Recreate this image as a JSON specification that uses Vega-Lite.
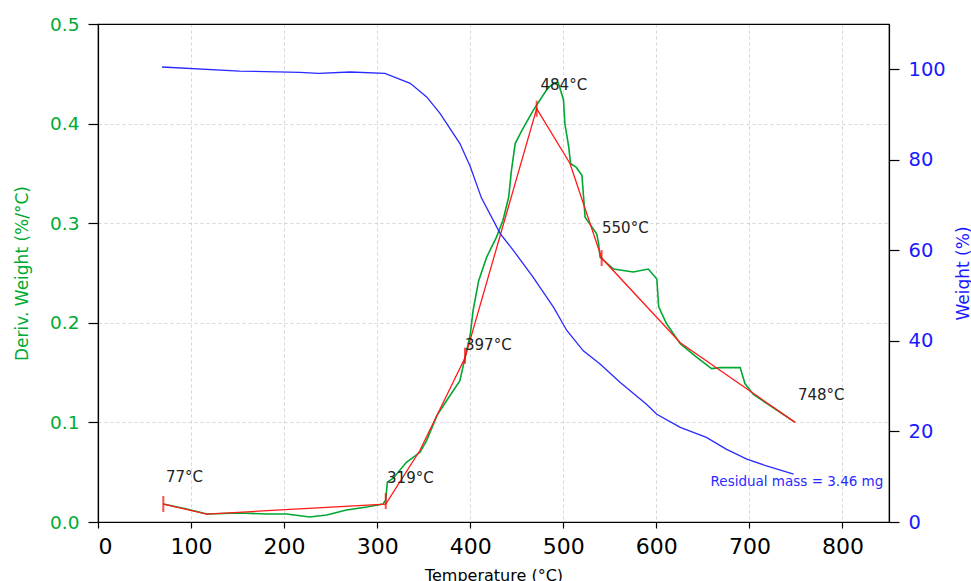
{
  "$schema": "https://vega.github.io/schema/vega-lite/v6.json",
  "width": 791,
  "height": 498,
  "autosize": {"type": "none"},
  "padding": {"left": 98, "top": 24, "right": 82, "bottom": 59},
  "background": "white",
  "config": {
    "font": "DejaVu Sans",
    "view": {"stroke": "#000000", "strokeWidth": 1.2},
    "axis": {
      "domainColor": "#000000",
      "domainWidth": 1.2,
      "tickColor": "#000000",
      "tickWidth": 1.2,
      "gridColor": "#cccccc",
      "gridDash": [3, 3],
      "gridWidth": 0.8,
      "titleFontWeight": "normal",
      "labelFont": "DejaVu Sans",
      "titleFont": "DejaVu Sans"
    }
  },
  "datasets": {
    "dtg": [
      {"T": 70.2, "v": 0.018}, {"T": 95.3, "v": 0.013}, {"T": 116.9, "v": 0.008}, {"T": 152.6, "v": 0.009},
      {"T": 181.3, "v": 0.008}, {"T": 202.5, "v": 0.008}, {"T": 227.6, "v": 0.005}, {"T": 245.8, "v": 0.007},
      {"T": 267, "v": 0.012}, {"T": 288.6, "v": 0.015}, {"T": 306.2, "v": 0.018}, {"T": 309.2, "v": 0.022},
      {"T": 310.9, "v": 0.04}, {"T": 317.3, "v": 0.044}, {"T": 331.4, "v": 0.06}, {"T": 346, "v": 0.07},
      {"T": 353.2, "v": 0.082}, {"T": 364.3, "v": 0.107}, {"T": 374.7, "v": 0.122}, {"T": 388.9, "v": 0.142},
      {"T": 394.4, "v": 0.165}, {"T": 400, "v": 0.188}, {"T": 403, "v": 0.212}, {"T": 409, "v": 0.242},
      {"T": 417.7, "v": 0.266}, {"T": 428.2, "v": 0.286}, {"T": 435.2, "v": 0.303}, {"T": 441.3, "v": 0.326},
      {"T": 444.3, "v": 0.353}, {"T": 448.3, "v": 0.38}, {"T": 455.4, "v": 0.393}, {"T": 467.5, "v": 0.413},
      {"T": 482.1, "v": 0.434}, {"T": 489.6, "v": 0.441}, {"T": 494.6, "v": 0.441}, {"T": 500.2, "v": 0.424},
      {"T": 501.7, "v": 0.4}, {"T": 505.8, "v": 0.377}, {"T": 507.8, "v": 0.36}, {"T": 514, "v": 0.356},
      {"T": 520, "v": 0.348}, {"T": 521.5, "v": 0.33}, {"T": 523.4, "v": 0.306}, {"T": 536, "v": 0.289},
      {"T": 538, "v": 0.279}, {"T": 539.5, "v": 0.266}, {"T": 554, "v": 0.254}, {"T": 575.2, "v": 0.251},
      {"T": 591.4, "v": 0.254}, {"T": 600.5, "v": 0.244}, {"T": 602.5, "v": 0.216}, {"T": 611, "v": 0.199},
      {"T": 625.7, "v": 0.179}, {"T": 643.8, "v": 0.165}, {"T": 659.4, "v": 0.154}, {"T": 668.5, "v": 0.155},
      {"T": 690.1, "v": 0.155}, {"T": 695.2, "v": 0.139}, {"T": 704.3, "v": 0.128}, {"T": 725.4, "v": 0.115},
      {"T": 749.1, "v": 0.1}
    ],
    "fit": [
      {"T": 70.2, "v": 0.018}, {"T": 116.9, "v": 0.008}, {"T": 309.2, "v": 0.018}, {"T": 346, "v": 0.072},
      {"T": 394.4, "v": 0.165}, {"T": 471.4, "v": 0.415}, {"T": 507.2, "v": 0.36}, {"T": 541.2, "v": 0.265},
      {"T": 625.7, "v": 0.18}, {"T": 749.1, "v": 0.1}
    ],
    "marks": [
      {"T": 70.2, "v": 0.018}, {"T": 309.2, "v": 0.021}, {"T": 394.4, "v": 0.167},
      {"T": 471.4, "v": 0.415}, {"T": 541.2, "v": 0.265}
    ],
    "labels": [
      {"T": 73.1, "v": 0.0405, "label": "77°C"},
      {"T": 310.6, "v": 0.039, "label": "319°C"},
      {"T": 394.4, "v": 0.173, "label": "397°C"},
      {"T": 475.5, "v": 0.434, "label": "484°C"},
      {"T": 541.6, "v": 0.29, "label": "550°C"},
      {"T": 752.2, "v": 0.122, "label": "748°C"}
    ],
    "tga": [
      {"T": 68.8, "v": 100.5}, {"T": 152.1, "v": 99.6}, {"T": 217.1, "v": 99.3}, {"T": 236.8, "v": 99.1},
      {"T": 271, "v": 99.4}, {"T": 308.3, "v": 99.1}, {"T": 335.5, "v": 96.9}, {"T": 353.2, "v": 93.9},
      {"T": 367.7, "v": 90.2}, {"T": 388.9, "v": 83.6}, {"T": 400, "v": 78.5}, {"T": 412, "v": 71.6},
      {"T": 432.2, "v": 63.7}, {"T": 446.3, "v": 60.0}, {"T": 467.5, "v": 54.1}, {"T": 489.6, "v": 47.4},
      {"T": 503.8, "v": 42.3}, {"T": 521.5, "v": 37.8}, {"T": 539.5, "v": 34.9}, {"T": 561.2, "v": 30.8},
      {"T": 589.4, "v": 26.0}, {"T": 600.5, "v": 23.8}, {"T": 625.7, "v": 20.9}, {"T": 653.8, "v": 18.7},
      {"T": 675, "v": 16.1}, {"T": 697.2, "v": 13.9}, {"T": 718.3, "v": 12.4}, {"T": 747.5, "v": 10.6}
    ],
    "residual": [
      {"T": 843.9, "v": 8.0, "label": "Residual mass = 3.46 mg"}
    ]
  },
  "layer": [
    {
      "encoding": {
        "x": {
          "field": "T", "type": "quantitative",
          "scale": {"domain": [0, 850], "nice": false, "zero": false},
          "axis": {
            "values": [0, 100, 200, 300, 400, 500, 600, 700, 800],
            "title": "Temperature (°C)", "titleFontSize": 16, "titleColor": "#000000",
            "titleY": 58, "titleBaseline": "alphabetic",
            "labelFontSize": 22, "labelColor": "#000000", "tickSize": 6, "labelPadding": 8,
            "grid": true
          }
        },
        "y": {
          "field": "v", "type": "quantitative",
          "scale": {"domain": [0, 0.5], "nice": false, "zero": false},
          "axis": {
            "orient": "left",
            "values": [0, 0.1, 0.2, 0.3, 0.4, 0.5], "format": ".1f",
            "title": "Deriv. Weight (%/°C)", "titleFontSize": 17, "titleColor": "#00aa33",
            "titleX": -76, "titleY": 249, "titleAngle": 270, "titleAlign": "center", "titleBaseline": "middle",
            "labelFontSize": 18.5, "labelColor": "#00aa33", "tickSize": 10, "labelPadding": 9,
            "grid": true,
            "gridColor": {"condition": {"test": "datum.value >= 0.5", "value": "#000000"}, "value": "#cccccc"},
            "gridDash": {"condition": {"test": "datum.value >= 0.5", "value": []}, "value": [3, 3]},
            "gridWidth": {"condition": {"test": "datum.value >= 0.5", "value": 1.2}, "value": 0.8}
          }
        }
      },
      "layer": [
        {"data": {"name": "dtg"}, "mark": {"type": "line", "color": "#00a832", "strokeWidth": 1.6}},
        {"data": {"name": "fit"}, "mark": {"type": "line", "color": "#ff1a1a", "strokeWidth": 1.3}},
        {"data": {"name": "marks"}, "mark": {"type": "tick", "orient": "vertical", "color": "#ff0000", "size": 16, "thickness": 2}},
        {"data": {"name": "labels"}, "mark": {"type": "text", "align": "left", "baseline": "alphabetic", "fontSize": 15, "color": "#222222"}, "encoding": {"text": {"field": "label"}}}
      ]
    },
    {
      "encoding": {
        "x": {
          "field": "T", "type": "quantitative",
          "scale": {"domain": [0, 850], "nice": false, "zero": false},
          "axis": {
            "values": [0, 100, 200, 300, 400, 500, 600, 700, 800],
            "title": "Temperature (°C)", "titleFontSize": 16, "titleColor": "#000000",
            "titleY": 58, "titleBaseline": "alphabetic",
            "labelFontSize": 22, "labelColor": "#000000", "tickSize": 6, "labelPadding": 8,
            "grid": true
          }
        },
        "y": {
          "field": "v", "type": "quantitative",
          "scale": {"domain": [0, 110], "nice": false, "zero": false},
          "axis": {
            "orient": "right",
            "values": [0, 20, 40, 60, 80, 100],
            "title": "Weight (%)", "titleFontSize": 17, "titleColor": "#1a1aff",
            "titleX": 74, "titleY": 249, "titleAngle": 270, "titleAlign": "center", "titleBaseline": "middle",
            "labelFontSize": 19.5, "labelColor": "#1a1aff", "tickSize": 10, "labelPadding": 9,
            "grid": false
          }
        }
      },
      "layer": [
        {"data": {"name": "tga"}, "mark": {"type": "line", "color": "#2a2aff", "strokeWidth": 1.3}},
        {"data": {"name": "residual"}, "mark": {"type": "text", "align": "right", "baseline": "alphabetic", "fontSize": 13.5, "color": "#2a2aff"}, "encoding": {"text": {"field": "label"}}}
      ]
    }
  ],
  "resolve": {"scale": {"y": "independent"}, "axis": {"y": "independent"}}
}
